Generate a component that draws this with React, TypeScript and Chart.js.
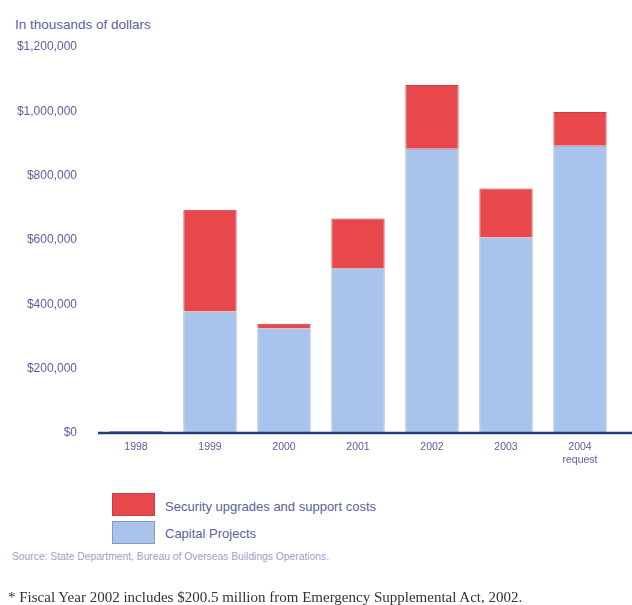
import React, { useEffect, useRef } from "react";
import { Chart, registerables } from "chart.js";

Chart.register(...registerables);

const categories: (string | string[])[] = ["1998", "1999", "2000", "2001", "2002", "2003", ["2004", "request"]];
const capitalProjects = [6000, 378000, 325000, 512000, 884000, 608000, 893000];
const securityCosts = [0, 316000, 15000, 155000, 198000, 152000, 105000];
const yTicks = [0, 200000, 400000, 600000, 800000, 1000000, 1200000];

const TEXT = "#5a5fa0";
const FONT = "'Liberation Sans', Arial, sans-serif";

const axisLinePlugin = {
  id: "axisLine",
  afterDatasetsDraw(chart: any) {
    const ctx = chart.ctx;
    const y = chart.scales.y.getPixelForValue(0);
    ctx.save();
    ctx.strokeStyle = "#2c3a7c";
    ctx.lineWidth = 2.5;
    ctx.beginPath();
    ctx.moveTo(98, y);
    ctx.lineTo(632, y);
    ctx.stroke();
    ctx.restore();
  },
};

export default function App() {
  const ref = useRef<HTMLCanvasElement>(null);
  useEffect(() => {
    if (!ref.current) return;
    const chart = new Chart(ref.current, {
      type: "bar",
      data: {
        labels: categories,
        datasets: [
          {
            label: "Capital Projects",
            data: capitalProjects,
            backgroundColor: "#a9c4ec",
            borderColor: "#8a98b8",
            borderWidth: 1,
          },
          {
            label: "Security upgrades and support costs",
            data: securityCosts,
            backgroundColor: "#e8474c",
            borderColor: "#c2404a",
            borderWidth: 1,
          },
        ],
      },
      options: {
        animation: false,
        responsive: false,
        maintainAspectRatio: false,
        layout: { padding: { top: 47, right: 15, left: 0, bottom: 0 } },
        plugins: { legend: { display: false }, tooltip: { enabled: false } },
        scales: {
          x: {
            stacked: true,
            grid: { display: false, drawTicks: false, tickLength: 0 },
            border: { display: false },
            categoryPercentage: 1,
            barPercentage: 0.66,
            ticks: { color: TEXT, font: { family: FONT, size: 10.5 }, padding: 8, maxRotation: 0, autoSkip: false },
            afterFit: (s: any) => { s.height = 37; },
          } as any,
          y: {
            stacked: true,
            min: 0,
            max: 1200000,
            grid: { display: false, drawTicks: false, tickLength: 0 },
            border: { display: false },
            afterBuildTicks: (s: any) => { s.ticks = yTicks.map((v) => ({ value: v })); },
            ticks: {
              color: TEXT,
              font: { family: FONT, size: 12 },
              padding: 22,
              callback: (v: any) => "$" + Number(v).toLocaleString("en-US"),
            },
            afterFit: (s: any) => { s.width = 99; },
          } as any,
        },
      },
      plugins: [axisLinePlugin],
    });
    return () => chart.destroy();
  }, []);

  const swatch = (color: string, border: string) => ({
    position: "absolute" as const,
    width: 43,
    height: 23,
    background: color,
    border: `1px solid ${border}`,
    boxSizing: "border-box" as const,
  });

  return (
    <div style={{ position: "fixed", left: 0, top: 0, width: 632, height: 605, background: "#fff", fontFamily: FONT }}>
      <div style={{ position: "absolute", left: 15, top: 17, fontSize: 13.5, color: TEXT, whiteSpace: "nowrap" }}>
        In thousands of dollars
      </div>
      <canvas ref={ref} width={632} height={470} style={{ position: "absolute", left: 0, top: 0 }} />
      <div style={{ ...swatch("#e8474c", "#c2404a"), left: 112, top: 493 }} />
      <div style={{ position: "absolute", left: 165, top: 499, fontSize: 13, color: TEXT, whiteSpace: "nowrap" }}>
        Security upgrades and support costs
      </div>
      <div style={{ ...swatch("#a9c4ec", "#8a98b8"), left: 112, top: 521 }} />
      <div style={{ position: "absolute", left: 165, top: 526, fontSize: 13, color: TEXT, whiteSpace: "nowrap" }}>
        Capital Projects
      </div>
      <div style={{ position: "absolute", left: 12, top: 551, fontSize: 10.3, color: "#9aa0cc", whiteSpace: "nowrap" }}>
        Source: State Department, Bureau of Overseas Buildings Operations.
      </div>
      <div style={{ position: "absolute", left: 8, top: 589, fontSize: 15, color: "#333", fontFamily: "'Liberation Serif', 'Times New Roman', serif", whiteSpace: "nowrap" }}>
        * Fiscal Year 2002 includes $200.5 million from Emergency Supplemental Act, 2002.
      </div>
    </div>
  );
}
